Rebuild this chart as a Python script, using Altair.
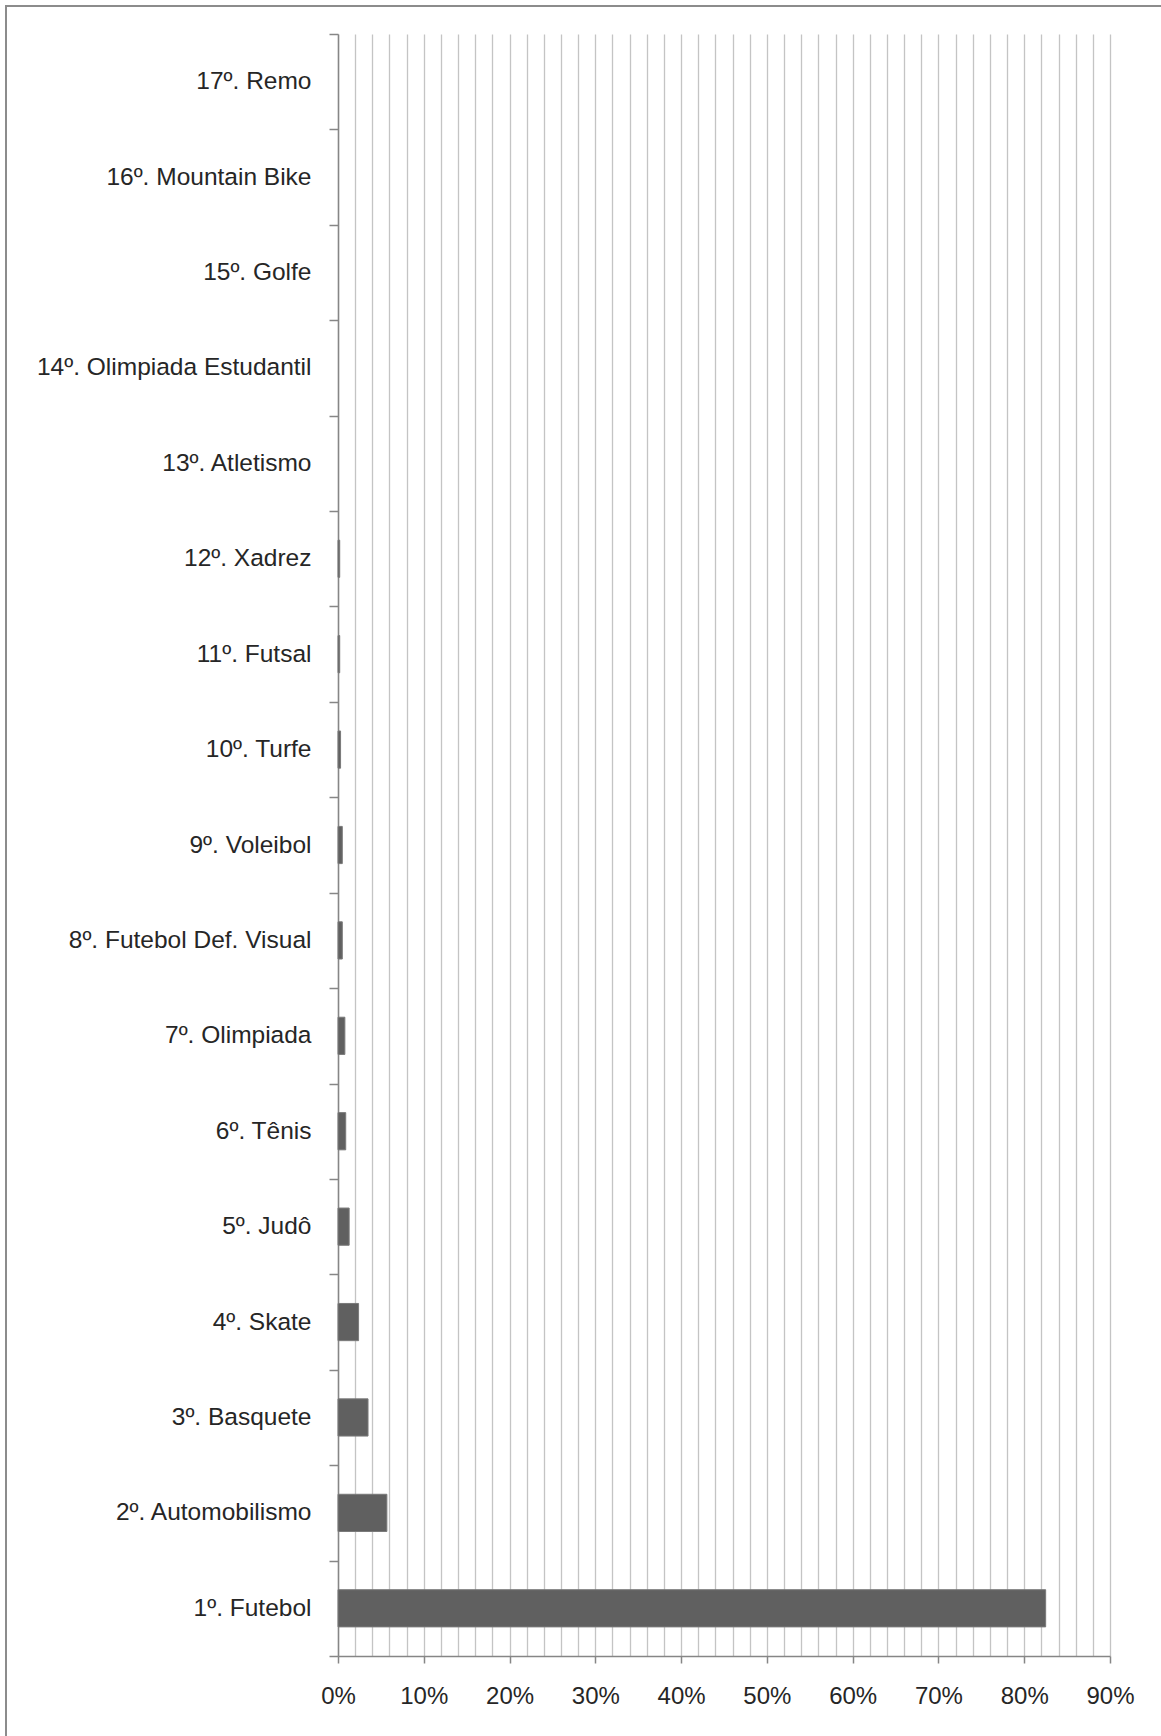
import altair as alt
import pandas as pd

esportes = [
    "1º. Futebol", "2º. Automobilismo", "3º. Basquete", "4º. Skate", "5º. Judô",
    "6º. Tênis", "7º. Olimpiada", "8º. Futebol Def. Visual", "9º. Voleibol",
    "10º. Turfe", "11º. Futsal", "12º. Xadrez", "13º. Atletismo",
    "14º. Olimpiada Estudantil", "15º. Golfe", "16º. Mountain Bike", "17º. Remo",
]
percentuais = [82.5, 5.7, 3.5, 2.4, 1.3, 0.9, 0.8, 0.5, 0.5, 0.3, 0.2, 0.2, 0.0, 0.0, 0.0, 0.0, 0.0]
x_grid = [round(i * 0.02, 2) for i in range(46)]

df = pd.DataFrame({"esporte": esportes, "valor": [v / 100 for v in percentuais]})
ordem = list(reversed(esportes))

FONT = "Liberation Sans"
AXIS_C = "#868686"

frame = alt.Chart(alt.Data(values=[{"k": 1}])).mark_rect(
    fillOpacity=0, stroke="#8c8c8c", strokeWidth=2
).encode(
    x=alt.value(-332), x2=alt.value(1100), y=alt.value(-28), y2=alt.value(2000)
)

bars = alt.Chart(df).mark_bar(
    height=alt.RelativeBandSize(0.39), color="#606060", stroke="#7a7a7a", strokeWidth=1
).encode(
    x=alt.X(
        "valor:Q",
        scale=alt.Scale(domain=[0, 0.9], nice=False, zero=True),
        axis=alt.Axis(
            title=None,
            values=x_grid,
            grid=True,
            gridColor="#c4c4c4",
            gridWidth=1.3,
            domainColor=AXIS_C,
            domainWidth=1.5,
            tickColor={"condition": {"test": "round(datum.value*100) % 10 === 0", "value": AXIS_C}, "value": "transparent"},
            tickWidth=1.5,
            tickSize=7,
            labelExpr="round(datum.value*100) % 10 === 0 ? round(datum.value*100) + '%' : ''",
            labelFont=FONT,
            labelFontSize=24,
            labelColor="#262626",
            labelPadding=21,
            labelOverlap=False,
            labelFlush=False,
        ),
    ),
    y=alt.Y(
        "esporte:N",
        sort=ordem,
        scale=alt.Scale(paddingInner=0, paddingOuter=0),
        axis=alt.Axis(
            title=None,
            grid=False,
            tickBand="extent",
            tickSize=9,
            tickColor=AXIS_C,
            tickWidth=1.5,
            domainColor=AXIS_C,
            domainWidth=1.5,
            labelFont=FONT,
            labelFontSize=24.5,
            labelColor="#262626",
            labelPadding=18,
            labelLimit=500,
        ),
    ),
    strokeOpacity=alt.condition("datum.valor > 0", alt.value(1), alt.value(0)),
)

chart = alt.layer(frame, bars).properties(
    width=772,
    height=1622,
    padding={"left": 338, "top": 34, "right": 51, "bottom": 80},
    autosize=alt.AutoSizeParams(type="none"),
    background="white",
).configure_view(stroke=None)

chart.save("out.html", embed_options={"renderer": "svg", "actions": False})
